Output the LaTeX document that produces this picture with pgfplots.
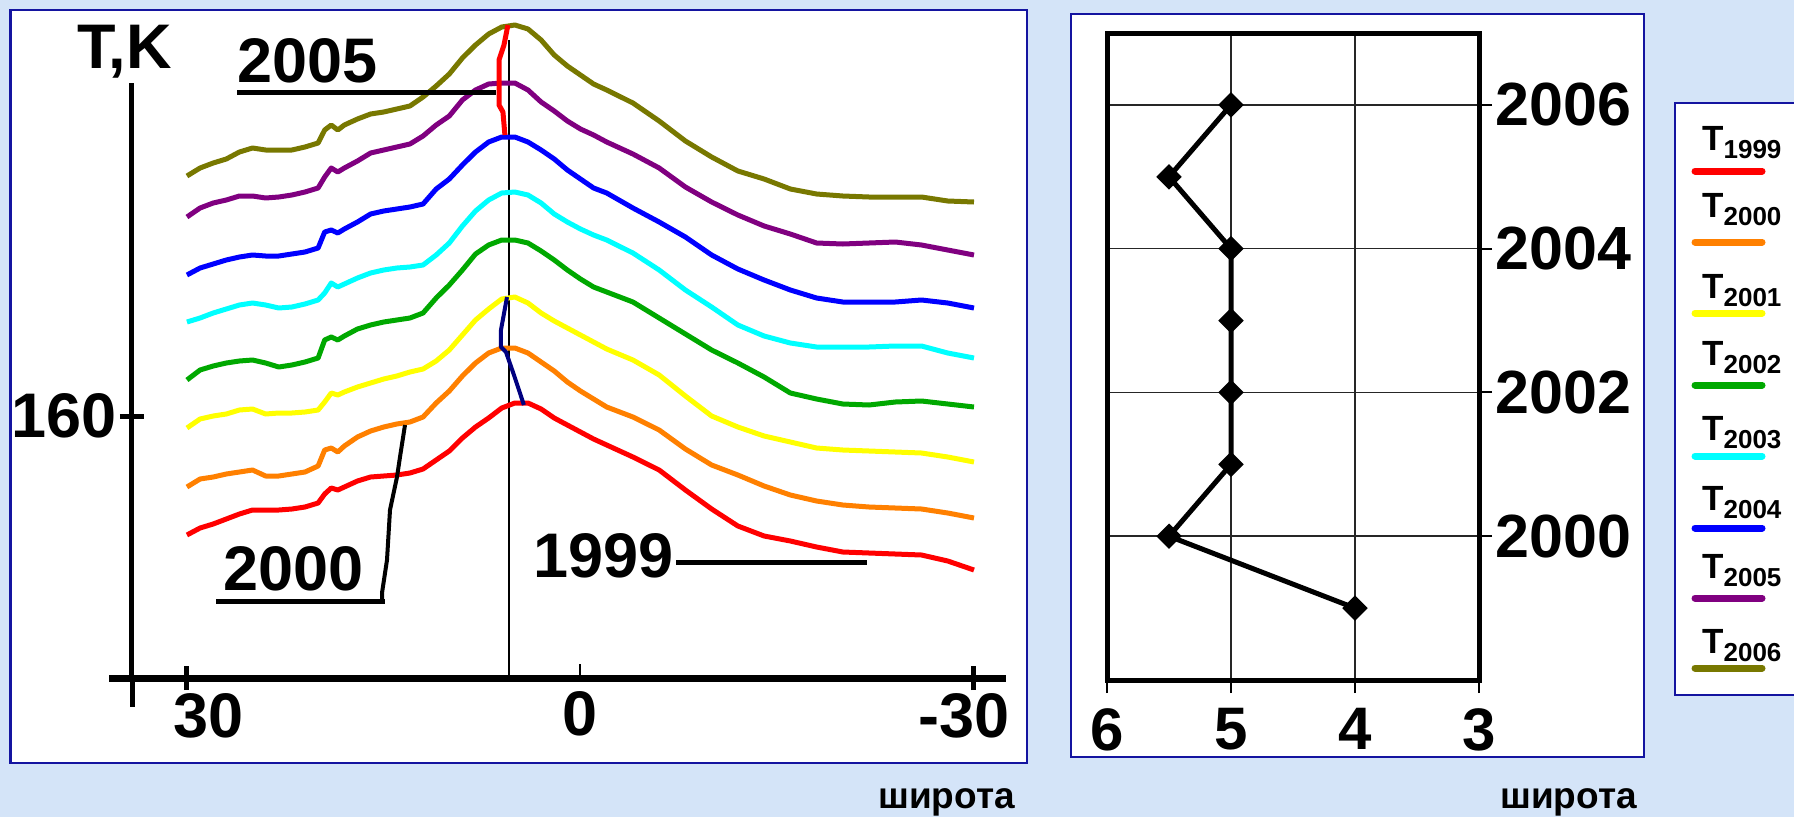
\documentclass[border=0pt]{standalone}
\usepackage{pgfplots}
\pgfplotsset{compat=1.18}
\usepackage{pgfplotstable}
\usepackage{fontspec}
\setmainfont{Liberation Sans}
\definecolor{bgblue}{RGB}{212,228,248}
\definecolor{frameblue}{RGB}{20,20,160}
\definecolor{c1999}{RGB}{255,0,0}
\definecolor{c2000}{RGB}{255,128,0}
\definecolor{c2001}{RGB}{255,255,0}
\definecolor{c2002}{RGB}{0,168,0}
\definecolor{c2003}{RGB}{0,255,255}
\definecolor{c2004}{RGB}{0,0,255}
\definecolor{c2005}{RGB}{128,0,128}
\definecolor{c2006}{RGB}{120,120,0}
\definecolor{navyline}{RGB}{0,0,128}
\newcommand\bigfont{\bfseries\fontsize{63}{63}\selectfont}
\pgfplotstableread{
lat   t1999 t2000 t2001 t2002 t2003 t2004 t2005 t2006
30    148.1 152.9 158.8 163.6 169.4 174.1 179.9 184.0
29    148.8 153.7 159.7 164.6 169.8 174.8 180.8 184.8
28    149.2 153.9 160.0 165.0 170.3 175.2 181.3 185.3
27    149.7 154.2 160.2 165.3 170.7 175.6 181.6 185.7
26    150.2 154.4 160.6 165.5 171.1 175.9 182.0 186.4
25    150.6 154.6 160.7 165.6 171.3 176.1 182.0 186.8
24    150.6 154.0 160.2 165.3 171.1 176.0 181.8 186.6
23    150.6 154.0 160.3 164.9 170.8 176.0 181.9 186.6
22    150.7 154.2 160.3 165.1 170.9 176.2 182.1 186.6
21    150.9 154.4 160.4 165.4 171.2 176.4 182.4 186.9
20    151.3 155.0 160.6 165.8 171.6 176.8 182.8 187.3
19.5  152.2 156.6 161.4 167.6 172.3 178.4 183.9 188.6
19    152.8 156.8 162.3 167.9 173.3 178.6 184.8 189.1
18.5  152.6 156.4 162.1 167.6 172.9 178.3 184.4 188.6
18    152.9 157.0 162.4 168.0 173.2 178.7 184.8 189.1
17    153.5 157.9 162.9 168.7 173.8 179.4 185.5 189.7
16    153.9 158.5 163.3 169.1 174.3 180.2 186.3 190.2
15    154.0 158.9 163.7 169.4 174.6 180.5 186.6 190.4
14    154.1 159.2 164.0 169.6 174.8 180.7 186.9 190.7
13    154.3 159.4 164.4 169.8 174.9 180.9 187.2 191.0
12    154.7 159.9 164.7 170.3 175.1 181.2 188.0 191.9
11    155.6 161.3 165.5 171.8 176.1 182.7 189.1 193.0
10    156.5 162.5 166.6 173.1 177.3 183.7 190.0 194.2
9     157.8 164.0 168.1 174.6 179.0 185.1 191.6 195.8
8     158.9 165.3 169.6 176.2 180.5 186.4 192.6 197.1
7     159.8 166.3 170.7 177.1 181.6 187.4 193.2 198.2
6     160.8 166.8 171.7 177.6 182.3 187.9 193.3 198.9
5     161.3 166.8 171.9 177.6 182.4 187.9 193.3 199.1
4     161.3 166.3 171.3 177.3 182.1 187.4 192.6 198.7
3     160.7 165.4 170.3 176.5 181.3 186.6 191.4 197.6
2     159.8 164.5 169.5 175.6 180.2 185.7 190.5 196.1
1     159.1 163.4 168.8 174.6 179.4 184.6 189.5 195.0
0     158.4 162.5 168.1 173.7 178.7 183.7 188.7 194.1
-1    157.7 161.7 167.4 172.9 178.1 182.8 188.1 193.2
-2    157.1 160.9 166.7 172.4 177.6 182.3 187.4 192.6
-4    155.9 159.9 165.6 171.4 176.3 180.8 186.2 191.3
-6    154.6 158.6 164.1 169.8 174.6 179.4 184.8 189.5
-8    152.6 156.7 162.0 168.2 172.6 177.9 182.9 187.5
-10   150.7 155.1 160.0 166.6 170.9 176.1 181.4 185.9
-12   149.0 154.1 158.9 165.3 169.1 174.7 180.1 184.5
-14   148.0 153.0 158.0 163.9 168.0 173.6 179.0 183.7
-16   147.5 152.1 157.4 162.3 167.3 172.6 178.2 182.7
-18   146.9 151.5 156.8 161.7 166.9 171.8 177.3 182.2
-20   146.4 151.1 156.6 161.2 166.9 171.4 177.2 182.0
-22   146.3 150.9 156.5 161.1 166.9 171.4 177.3 181.9
-24   146.2 150.8 156.4 161.4 167.0 171.4 177.4 181.9
-26   146.1 150.7 156.3 161.5 167.0 171.6 177.1 181.9
-28   145.5 150.3 155.9 161.2 166.3 171.3 176.6 181.5
-30   144.6 149.8 155.4 160.9 165.8 170.8 176.1 181.4
}\curves
\pgfplotstableread{
year lat
2006 5
2005 5.5
2004 5
2003 5
2002 5
2001 5
2000 5.5
1999 4
}\peaklat
\begin{document}
\begin{tikzpicture}
\useasboundingbox (0,0) rectangle (1794pt,-817pt);
\begin{scope}[x=1pt,y=-1pt]
\fill[bgblue] (0,0) rectangle (1794,817);
\filldraw[fill=white, draw=frameblue, line width=2.5pt] (10.5,10) rectangle (1027,763);
\filldraw[fill=white, draw=frameblue, line width=2.5pt] (1071,14) rectangle (1644,757);
\filldraw[fill=white, draw=frameblue, line width=2.5pt] (1675,103) rectangle (1820,695);
\end{scope}

% ---------- left panel ----------
\begin{axis}[
  at={(132pt,-678pt)}, anchor=south west,
  scale only axis, width=874pt, height=595pt,
  x dir=reverse, xmin=-32.44, xmax=34.19,
  ymin=133.8, ymax=193.3,
  clip=false,
  axis x line=bottom, axis y line=left,
  x axis line style={-, line width=7pt},
  y axis line style={-, line width=5pt},
  xtick={30,-30}, xticklabels={\hspace*{44pt}30,-30\hspace*{20pt}},
  extra x ticks={0}, extra x tick labels={0},
  extra x tick style={major tick length=14pt, tick align=inside, tick style={line width=2pt}, xticklabel style={yshift=-10pt}},
  ytick={160}, yticklabels={160},
  major tick length=24pt, tick align=center,
  tick style={line width=5pt, black},
  ticklabel style={font=\bigfont},
]
\addplot[black, line width=2pt] coordinates {(5.45,133.8) (5.45,197.6)};
\addplot[c1999, line width=5pt, line join=round] table[x=lat, y=t1999] {\curves};
\addplot[c2000, line width=5pt, line join=round] table[x=lat, y=t2000] {\curves};
\addplot[c2001, line width=5pt, line join=round] table[x=lat, y=t2001] {\curves};
\addplot[c2002, line width=5pt, line join=round] table[x=lat, y=t2002] {\curves};
\addplot[c2003, line width=5pt, line join=round] table[x=lat, y=t2003] {\curves};
\addplot[c2004, line width=5pt, line join=round] table[x=lat, y=t2004] {\curves};
\addplot[c2005, line width=5pt, line join=round] table[x=lat, y=t2005] {\curves};
\addplot[c2006, line width=5pt, line join=round] table[x=lat, y=t2006] {\curves};
\addplot[c1999, line width=5pt, line join=round] coordinates {(5.53,199.1) (5.83,197.1) (6.21,195.6) (6.21,191.1) (5.91,190.4) (5.76,188.1)};
\addplot[navyline, line width=4pt, line join=round] coordinates {(5.60,171.9) (6.06,168.6) (6.06,166.9) (5.68,166.4) (5.07,164.1) (4.31,161.1)};
\end{axis}

% ---------- right panel ----------
\begin{axis}[
  at={(1107pt,-680pt)}, anchor=south west,
  scale only axis, width=372pt, height=647pt,
  x dir=reverse, xmin=3, xmax=6, ymin=1998, ymax=2007,
  xtick={3,4,5,6}, xticklabels={3,4,5,6},
  ytick={2000,2002,2004,2006}, yticklabels={2000,2002,2004,2006},
  xtick pos=left, ytick pos=right, yticklabel pos=right,
  tick align=outside, major tick length=13pt,
  tick style={line width=2pt, black},
  grid=major, grid style={line width=1.5pt, black!85},
  axis line style={line width=5pt},
  xticklabel style={font=\bfseries\fontsize{60}{60}\selectfont, yshift=-12pt},
  yticklabel style={font=\bfseries\fontsize{61}{61}\selectfont},
  clip=false,
]
\addplot[black, line width=5pt, mark=square*, mark size=6.5pt, mark options={rotate=45, solid}] table[x=lat, y=year] {\peaklat};
\end{axis}

\begin{scope}[x=1pt,y=-1pt]
% axis extensions
\draw[line width=7pt] (109,678) -- (132,678);
\draw[line width=5pt] (132,678) -- (132,707);
% labels and leaders
\node[anchor=base west, inner sep=0, font=\bigfont] at (77,68) {T,K};
\node[anchor=base west, inner sep=0, font=\bigfont] at (237,82) {2005};
\draw[line width=5pt] (237,92) -- (496,92);
\node[anchor=base west, inner sep=0, font=\bigfont] at (223,590) {2000};
\draw[line width=5pt] (216,601) -- (385,601);
\draw[line width=4pt, line join=round] (382,601) -- (382,593) -- (387,560) -- (390,510) -- (397,477) -- (400,457) -- (405,425);
\node[anchor=base west, inner sep=0, font=\bigfont] at (533,577) {1999};
\draw[line width=5pt] (676,562) -- (867,562);
% x labels
\node[anchor=base west, inner sep=0, font=\bfseries\fontsize{37}{37}\selectfont] at (878,808) {широта};
\node[anchor=base west, inner sep=0, font=\bfseries\fontsize{37}{37}\selectfont] at (1500,808) {широта};
% legend
\foreach \yr/\base/\ly/\col in {1999/150/171/c1999, 2000/217/242/c2000, 2001/298/313/c2001, 2002/365/385/c2002, 2003/440/456/c2003, 2004/510/528/c2004, 2005/578/598/c2005, 2006/653/668/c2006}{
  \node[anchor=base west, inner sep=0, font=\bfseries\fontsize{35}{35}\selectfont] at (1702,\base) {T\raisebox{-8pt}{\fontsize{26}{26}\selectfont\yr}};
  \draw[\col, line width=7pt, line cap=round] (1695,\ly) -- (1762,\ly);
}
\end{scope}
\end{tikzpicture}
\end{document}
